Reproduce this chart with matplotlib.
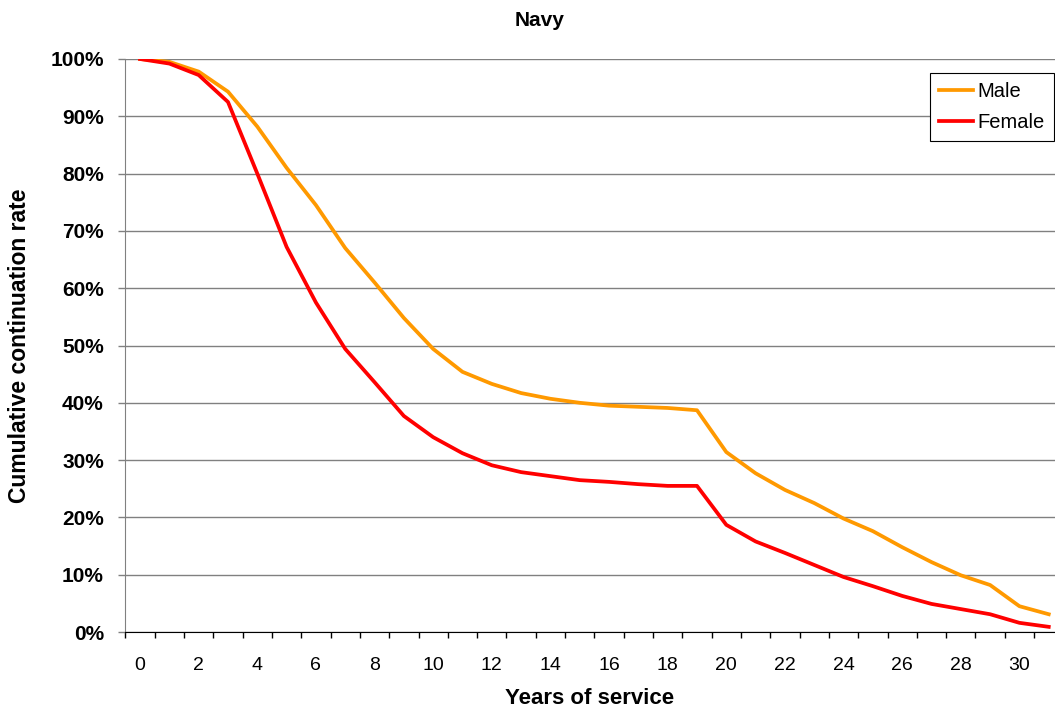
import numpy as np
import matplotlib

matplotlib.use("Agg")
import matplotlib.pyplot as plt  # noqa: E402
from matplotlib.ticker import FixedLocator, PercentFormatter  # noqa: E402

plt.rcParams["font.family"] = ["Liberation Sans", "DejaVu Sans"]

# years of service (category axis, one per year)
years = list(range(32))

male = [100, 99.5, 97.8, 94.3, 88.2, 81.0, 74.5, 67.0, 61.0, 54.8,
        49.4, 45.4, 43.3, 41.7, 40.7, 40.0, 39.5, 39.3, 39.1, 38.7,
        31.4, 27.7, 24.8, 22.5, 19.8, 17.6, 14.8, 12.2, 9.9, 8.2,
        4.5, 3.1]
female = [100, 99.2, 97.2, 92.5, 80.0, 67.2, 57.5, 49.4, 43.6, 37.7,
          34.0, 31.2, 29.1, 27.9, 27.2, 26.5, 26.2, 25.8, 25.5, 25.5,
          18.7, 15.8, 13.8, 11.7, 9.6, 8.0, 6.3, 4.9, 4.0, 3.1,
          1.6, 0.9]

W, H = 1055, 711
fig = plt.figure(figsize=(W / 100, H / 100), dpi=100)
# axes runs a little past the right edge, as in the cropped original
ax = fig.add_axes([125.4 / W, 79 / H, 938 / W, 573 / H])

ax.plot(years, male, color="#FF9900", lw=2.7, label="Male", solid_joinstyle="round")
ax.plot(years, female, color="#FF0000", lw=2.7, label="Female", solid_joinstyle="round")

ax.set_xlim(-0.5, 31.5)
ax.set_ylim(0, 100)

ax.set_yticks(np.arange(0, 101, 10))
ax.yaxis.set_major_formatter(PercentFormatter(decimals=0))
ax.yaxis.grid(True, color="#808080", lw=1)
ax.set_axisbelow(True)

ax.xaxis.set_major_locator(FixedLocator(list(range(0, 31, 2))))
ax.xaxis.set_minor_locator(FixedLocator([x - 0.5 for x in range(33)]))
ax.tick_params(axis="x", which="major", length=0, pad=18, labelsize=14)
ax.tick_params(axis="x", which="minor", length=4.5, width=1, color="black", direction="out")
ax.tick_params(axis="y", length=5, width=1, color="#808080", pad=10.5, labelsize=15)
for lab in ax.get_yticklabels():
    lab.set_fontweight("bold")

for s in ("top", "right"):
    ax.spines[s].set_visible(False)
ax.spines["left"].set_color("#808080")
ax.spines["bottom"].set_color("black")

fig.text(540 / W, 1 - 20 / H, "Navy", ha="center", va="center",
         fontsize=15, fontweight="bold")
fig.text(590 / W, 1 - 699 / H, "Years of service", ha="center", va="center",
         fontsize=16, fontweight="bold")
fig.text(20 / W, 1 - 346 / H, "Cumulative continuation rate", ha="center",
         va="center", rotation=90, fontsize=16.5, fontweight="bold")

leg = ax.legend(loc="upper left", bbox_to_anchor=(930 / W, 1 - 73 / H),
                bbox_transform=fig.transFigure, fancybox=False, framealpha=1,
                edgecolor="black", fontsize=14.5, handlelength=1.7,
                handletextpad=0.2, borderpad=0.45, labelspacing=0.6,
                borderaxespad=0)
leg.get_frame().set_linewidth(0.8)

fig.savefig("out.png", dpi=100)
